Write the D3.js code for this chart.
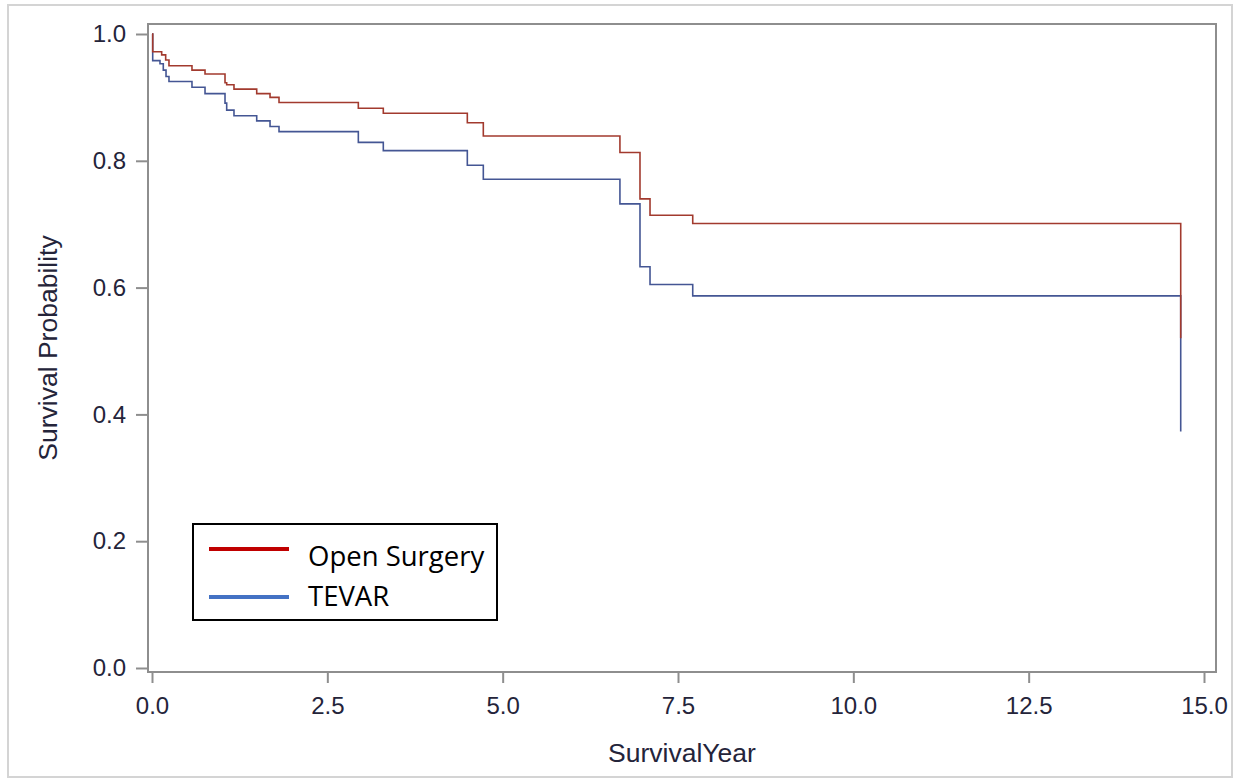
<!DOCTYPE html>
<html>
<head>
<meta charset="utf-8">
<script src="https://cdn.jsdelivr.net/npm/d3@7"></script>
<style>
  html, body { margin: 0; padding: 0; background: #fff; }
  svg { display: block; }
</style>
</head>
<body>
<svg id="chart" width="1240" height="781"></svg>
<script>
// Kaplan-Meier steps: [year, survival after the step]
const openSurgery = [
  [0, 1.0], [0.01, 0.972], [0.138, 0.967], [0.195, 0.959], [0.242, 0.950],
  [0.570, 0.943], [0.756, 0.937], [1.041, 0.923], [1.065, 0.920], [1.169, 0.913],
  [1.493, 0.906], [1.683, 0.900], [1.811, 0.892], [2.942, 0.883], [3.298, 0.875],
  [4.496, 0.860], [4.724, 0.839], [6.672, 0.813], [6.958, 0.740], [7.101, 0.714],
  [7.710, 0.701], [14.668, 0.520]
];
const tevar = [
  [0, 1.0], [0.01, 0.958], [0.114, 0.953], [0.161, 0.943], [0.200, 0.933],
  [0.242, 0.925], [0.570, 0.916], [0.756, 0.906], [1.041, 0.891], [1.065, 0.880],
  [1.169, 0.871], [1.493, 0.863], [1.683, 0.854], [1.811, 0.846], [2.942, 0.829],
  [3.298, 0.816], [4.496, 0.793], [4.724, 0.771], [6.672, 0.732], [6.958, 0.633],
  [7.101, 0.605], [7.710, 0.587], [14.668, 0.373]
];
const xTicks = [0, 2.5, 5, 7.5, 10, 12.5, 15];
const yTicks = [0, 0.2, 0.4, 0.6, 0.8, 1.0];
const seriesNames = ['Open Surgery', 'TEVAR'];
const lineColors = ['#A23A2E', '#445694'];
const legendColors = ['#C00000', '#4472C4'];

const svg = d3.select('#chart');
const frame = { left: 148, top: 24, right: 1216, bottom: 672 };
const axisColor = '#8e8e8e';
const labelFont = '"Liberation Sans", Arial, sans-serif';
const textColor = '#24243a';

// outer light border
svg.append('rect')
  .attr('x', 8).attr('y', 5)
  .attr('width', 1224).attr('height', 772)
  .attr('fill', '#fff')
  .attr('stroke', '#d4d4d4')
  .attr('stroke-width', 2);

const x = d3.scaleLinear().domain([0, 15]).range([152, 1204]);
const y = d3.scaleLinear().domain([0, 1]).range([668, 34]);

const yAxis = d3.axisLeft(y)
  .tickValues(yTicks)
  .tickFormat(d3.format('.1f'))
  .tickSize(12)
  .tickPadding(10);
const xAxis = d3.axisBottom(x)
  .tickValues(xTicks)
  .tickFormat(d3.format('.1f'))
  .tickSize(11)
  .tickPadding(14);

const styleAxis = g => {
  g.select('.domain').remove();
  g.selectAll('line').attr('stroke', axisColor).attr('stroke-width', 2);
  g.selectAll('text')
    .attr('fill', textColor)
    .style('font-family', labelFont)
    .style('font-size', '24px');
};

svg.append('g')
  .attr('transform', `translate(${frame.left}, 0)`)
  .call(yAxis)
  .call(styleAxis);
svg.append('g')
  .attr('transform', `translate(0, ${frame.bottom})`)
  .call(xAxis)
  .call(styleAxis);

// plot frame
svg.append('rect')
  .attr('x', frame.left).attr('y', frame.top)
  .attr('width', frame.right - frame.left)
  .attr('height', frame.bottom - frame.top)
  .attr('fill', 'none')
  .attr('stroke', axisColor)
  .attr('stroke-width', 2);

const line = d3.line()
  .x(d => x(d[0]))
  .y(d => y(d[1]))
  .curve(d3.curveStepAfter);

// blue first, red on top
[[tevar, lineColors[1]], [openSurgery, lineColors[0]]].forEach(([data, color]) => {
  svg.append('path')
    .datum(data)
    .attr('fill', 'none')
    .attr('stroke', color)
    .attr('stroke-width', 1.6)
    .attr('d', line);
});

// axis titles
svg.append('text')
  .attr('x', (frame.left + frame.right) / 2)
  .attr('y', 762)
  .attr('text-anchor', 'middle')
  .attr('fill', textColor)
  .style('font-family', labelFont)
  .style('font-size', '26.5px')
  .text('SurvivalYear');
svg.append('text')
  .attr('transform', `translate(57, ${(frame.top + frame.bottom) / 2}) rotate(-90)`)
  .attr('text-anchor', 'middle')
  .attr('fill', textColor)
  .style('font-family', labelFont)
  .style('font-size', '26.5px')
  .text('Survival Probability');

// legend
const legend = svg.append('g');
legend.append('rect')
  .attr('x', 193).attr('y', 524)
  .attr('width', 304).attr('height', 96)
  .attr('fill', '#fff')
  .attr('stroke', '#000')
  .attr('stroke-width', 2);
const legendLineY = [549, 597];
const legendTextY = [566, 606];
seriesNames.forEach((name, i) => {
  legend.append('line')
    .attr('x1', 209).attr('x2', 289)
    .attr('y1', legendLineY[i]).attr('y2', legendLineY[i])
    .attr('stroke', legendColors[i])
    .attr('stroke-width', 4);
  legend.append('text')
    .attr('x', 308)
    .attr('y', legendTextY[i])
    .attr('fill', '#000')
    .style('font-family', '"Open Sans", "Noto Sans", sans-serif')
    .style('font-size', '27.5px')
    .text(name);
});
</script>
</body>
</html>
